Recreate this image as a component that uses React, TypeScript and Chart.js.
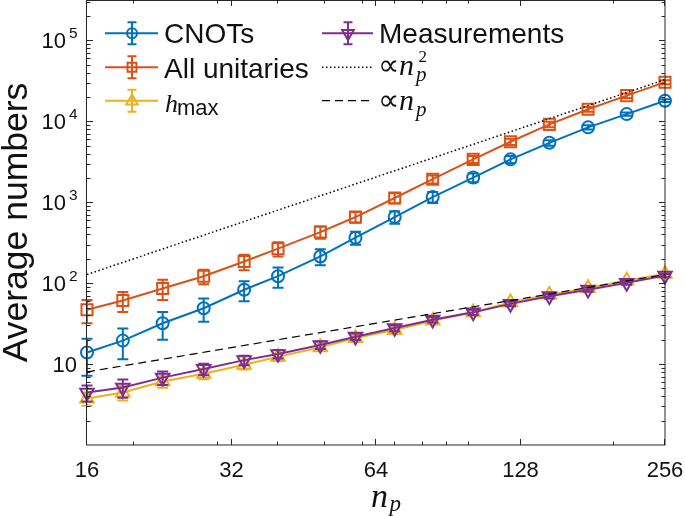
import React, { useEffect, useRef } from 'react';
import { Chart, registerables } from 'chart.js';

Chart.register(...registerables);

// ---------- data ----------
const npValues = [16, 19, 23, 28, 34, 40, 49, 58, 70, 84, 102, 122, 147, 177, 213, 256];

const cnotMeans = [13.9, 19.5, 32, 49, 83, 122, 214, 365, 657, 1160, 2020, 3390, 5430, 8430, 12300, 18000];
const cnotErrors = [6.7, 8, 12, 15.7, 23, 34, 48, 67, 115, 180, 250, 330, 420, 500, 600, 700];

const unitaryMeans = [47, 61, 86, 122, 185, 267, 428, 657, 1130, 1930, 3390, 5600, 9180, 14100, 20800, 30500];
const unitaryErrors = [15, 17, 24, 25, 40, 54, 75, 100, 160, 220, 330, 480, 700, 950, 1300, 1800];

const hmaxMeans = [3.75, 4.45, 6.1, 7.6, 9.8, 12.3, 16.1, 21, 26.4, 34.4, 43.6, 58, 72, 87, 108, 130];
const hmaxErrors = [0.7, 0.9, 1.0, 1.1, 1.2, 1.3, 1.5, 1.7, 2.0, 2.5, 3.0, 3.5, 4.0, 4.5, 5.0, 5.5];

const measurementMeans = [4.45, 5.13, 6.8, 8.7, 11.2, 13.3, 17.2, 21.8, 27.9, 35.4, 43.6, 55.5, 69, 83, 101, 124];
const measurementErrors = [1.0, 1.3, 1.3, 1.4, 1.5, 1.6, 1.8, 2.0, 2.4, 2.8, 3.2, 3.6, 4.2, 4.8, 5.4, 6.0];

const refX = [16, 256];
const quadraticRefY = [128, 32768];
const linearRefY = [8, 128];

const xTickValues = [16, 32, 64, 128, 256];
const xMinorTickValues = [20, 30, 40, 50, 60, 70, 80, 90, 100, 200];
const yTickExponents = [1, 2, 3, 4, 5];

const X_MIN = 16;
const X_MAX = 256;
const Y_MIN = 1;
const Y_MAX = 316228;

const BLUE = '#0072BD';
const ORANGE = '#D95319';
const YELLOW = '#EDB120';
const PURPLE = '#7E2F8E';
const AXIS = '#262626';
const TEXT = '#111111';

const SANS = '"Liberation Sans", Arial, Helvetica, sans-serif';
const SERIF = '"Liberation Serif", "Times New Roman", serif';

// ---------- helpers ----------
function markerPath(ctx: CanvasRenderingContext2D, style: string, x: number, y: number, r: number) {
  ctx.beginPath();
  if (style === 'circle') {
    ctx.arc(x, y, r, 0, Math.PI * 2);
  } else if (style === 'rect') {
    const s = r * Math.SQRT1_2;
    ctx.rect(x - s, y - s, 2 * s, 2 * s);
  } else {
    const down = style === 'triDown';
    let rad = down ? Math.PI : 0;
    for (let k = 0; k < 3; k++) {
      const px = x + Math.sin(rad) * r;
      const py = y - Math.cos(rad) * r;
      if (k === 0) ctx.moveTo(px, py);
      else ctx.lineTo(px, py);
      rad += (2 * Math.PI) / 3;
    }
    ctx.closePath();
  }
  ctx.stroke();
}

function seriesPoints(values: number[]) {
  return npValues.map((x, i) => ({ x, y: values[i] }));
}

const errorBarPlugin = {
  id: 'errorBars',
  afterDatasetDraw(chart: any, args: any) {
    const ds = chart.data.datasets[args.index];
    const errs: number[] | undefined = ds.errorValues;
    if (!errs) return;
    const xs = chart.scales.x;
    const ys = chart.scales.y;
    const ctx: CanvasRenderingContext2D = chart.ctx;
    ctx.save();
    ctx.strokeStyle = ds.borderColor;
    ctx.lineWidth = 2;
    ctx.lineCap = 'butt';
    const cap = 5.5;
    ds.data.forEach((p: any, i: number) => {
      const e = errs[i];
      const px = xs.getPixelForValue(p.x);
      const yTop = ys.getPixelForValue(p.y + e);
      const yBot = ys.getPixelForValue(Math.max(p.y - e, Y_MIN * 0.5));
      ctx.beginPath();
      ctx.moveTo(px, yTop);
      ctx.lineTo(px, yBot);
      ctx.moveTo(px - cap, yTop);
      ctx.lineTo(px + cap, yTop);
      ctx.moveTo(px - cap, yBot);
      ctx.lineTo(px + cap, yBot);
      ctx.stroke();
    });
    ctx.restore();
  },
};

const decorPlugin = {
  id: 'decor',
  afterDraw(chart: any) {
    const ctx: CanvasRenderingContext2D = chart.ctx;
    const xs = chart.scales.x;
    const ys = chart.scales.y;
    const a = chart.chartArea;
    ctx.save();

    // axes box
    ctx.strokeStyle = AXIS;
    ctx.lineWidth = 1;
    ctx.strokeRect(a.left - 0.5, a.top + 0.5, a.right - a.left + 0.5, a.bottom - a.top - 0.5);

    // ticks (inward, all four sides)
    const majorLen = 6;
    const minorLen = 3.5;
    ctx.beginPath();
    xTickValues.forEach((v) => {
      const px = Math.round(xs.getPixelForValue(v)) - 0.5;
      ctx.moveTo(px, a.bottom);
      ctx.lineTo(px, a.bottom - majorLen);
      ctx.moveTo(px, a.top);
      ctx.lineTo(px, a.top + majorLen);
    });
    xMinorTickValues.forEach((v) => {
      const px = Math.round(xs.getPixelForValue(v)) - 0.5;
      ctx.moveTo(px, a.bottom);
      ctx.lineTo(px, a.bottom - minorLen);
      ctx.moveTo(px, a.top);
      ctx.lineTo(px, a.top + minorLen);
    });
    yTickExponents.forEach((k) => {
      const py = Math.round(ys.getPixelForValue(Math.pow(10, k))) + 0.5;
      ctx.moveTo(a.left, py);
      ctx.lineTo(a.left + majorLen, py);
      ctx.moveTo(a.right, py);
      ctx.lineTo(a.right - majorLen, py);
    });
    for (let k = 0; k <= 5; k++) {
      for (let m = 2; m <= 9; m++) {
        const v = m * Math.pow(10, k);
        if (v >= Y_MAX) continue;
        const py = Math.round(ys.getPixelForValue(v)) + 0.5;
        ctx.moveTo(a.left, py);
        ctx.lineTo(a.left + minorLen, py);
        ctx.moveTo(a.right, py);
        ctx.lineTo(a.right - minorLen, py);
      }
    }
    ctx.stroke();

    // x tick labels
    ctx.fillStyle = TEXT;
    ctx.font = `22px ${SANS}`;
    ctx.textAlign = 'center';
    ctx.textBaseline = 'alphabetic';
    xTickValues.forEach((v) => {
      ctx.fillText(String(v), xs.getPixelForValue(v), 476.5);
    });

    // y tick labels (10, 10^2 ...)
    yTickExponents.forEach((k) => {
      const py = ys.getPixelForValue(Math.pow(10, k));
      ctx.textAlign = 'right';
      if (k === 1) {
        ctx.font = `22px ${SANS}`;
        ctx.fillText('10', 77, py + 8);
      } else {
        ctx.font = `15.5px ${SANS}`;
        ctx.fillText(String(k), 77.5, py - 2.5);
        ctx.font = `22px ${SANS}`;
        ctx.fillText('10', 66, py + 7.5);
      }
    });

    // y title
    ctx.save();
    ctx.translate(26.5, (a.top + a.bottom) / 2);
    ctx.rotate(-Math.PI / 2);
    ctx.textAlign = 'center';
    ctx.font = `35.5px ${SANS}`;
    ctx.fillText('Average numbers', 0, 0);
    ctx.restore();

    // x title n_p
    ctx.textAlign = 'left';
    ctx.font = `italic 34px ${SERIF}`;
    ctx.fillText('n', 371, 506.5);
    ctx.font = `italic 23px ${SERIF}`;
    ctx.fillText('p', 389.5, 510.5);

    // legend
    const rows = [33.3, 67.3, 100.7];
    const col1 = { x1: 105, x2: 158, xm: 132, xt: 164 };
    const col2 = { x1: 322, x2: 373, xm: 348, xt: 379 };
    const entries = [
      { col: col1, row: 0, color: BLUE, style: 'circle', r: 5, ds: 0 },
      { col: col1, row: 1, color: ORANGE, style: 'rect', r: 6.3, ds: 1 },
      { col: col1, row: 2, color: YELLOW, style: 'triUp', r: 6.8, ds: 2 },
      { col: col2, row: 0, color: PURPLE, style: 'triDown', r: 6.8, ds: 3 },
    ];
    entries.forEach((e) => {
      const y = rows[e.row];
      ctx.strokeStyle = e.color;
      ctx.lineWidth = 2;
      ctx.beginPath();
      ctx.moveTo(e.col.x1, y);
      ctx.lineTo(e.col.x2, y);
      ctx.moveTo(e.col.xm, y - 11);
      ctx.lineTo(e.col.xm, y + 11);
      ctx.moveTo(e.col.xm - 4.5, y - 11);
      ctx.lineTo(e.col.xm + 4.5, y - 11);
      ctx.moveTo(e.col.xm - 4.5, y + 11);
      ctx.lineTo(e.col.xm + 4.5, y + 11);
      ctx.stroke();
      markerPath(ctx, e.style, e.col.xm, e.row === 2 ? y + 0.5 : y, e.r);
    });
    // reference line legend samples
    ctx.strokeStyle = '#000';
    ctx.lineWidth = 1.5;
    ctx.setLineDash([1.5, 2.5]);
    ctx.beginPath();
    ctx.moveTo(col2.x1, rows[1]);
    ctx.lineTo(col2.x2, rows[1]);
    ctx.stroke();
    ctx.lineWidth = 1.2;
    ctx.setLineDash([8, 5]);
    ctx.beginPath();
    ctx.moveTo(col2.x1, rows[2]);
    ctx.lineTo(col2.x2, rows[2]);
    ctx.stroke();
    ctx.setLineDash([]);

    ctx.fillStyle = TEXT;
    ctx.textAlign = 'left';
    const labels: string[] = chart.data.datasets.map((d: any) => d.label);
    ctx.font = `28px ${SANS}`;
    ctx.fillText(labels[0], col1.xt, rows[0] + 10);
    ctx.fillText(labels[1], col1.xt, rows[1] + 10.3);
    ctx.fillText(labels[3], col2.xt, rows[0] + 10);
    // h_max
    ctx.font = `italic 26px ${SERIF}`;
    ctx.fillText('h', 165, 111.5);
    ctx.font = `22px ${SANS}`;
    ctx.fillText('max', 177, 115);
    // ∝ n_p^2
    const drawProp = (y: number, sup: string | null) => {
      ctx.font = `30px ${SERIF}`;
      ctx.fillText('\u221D', 378, y);
      ctx.font = `italic 30px ${SERIF}`;
      ctx.fillText('n', 399, y);
      ctx.font = `italic 21px ${SERIF}`;
      ctx.fillText('p', 416, y + 5.5);
      if (sup) {
        ctx.font = `17px ${SERIF}`;
        ctx.fillText(sup, 418.5, y - 13);
      }
    };
    drawProp(75, '2');
    drawProp(110, null);

    ctx.restore();
  },
};

export default function App() {
  const canvasRef = useRef<HTMLCanvasElement | null>(null);

  useEffect(() => {
    if (!canvasRef.current) return;
    const lineCommon = {
      borderWidth: 2,
      backgroundColor: 'rgba(0,0,0,0)',
      pointBackgroundColor: 'rgba(0,0,0,0)',
      pointBorderWidth: 2,
      pointHoverRadius: 0,
      tension: 0,
      clip: false as any,
      fill: false,
    };
    const chart = new Chart(canvasRef.current, {
      type: 'line',
      data: {
        datasets: [
          {
            ...lineCommon,
            label: 'CNOTs',
            data: seriesPoints(cnotMeans),
            borderColor: BLUE,
            pointBorderColor: BLUE,
            pointStyle: 'circle',
            pointRadius: 6,
            order: 4,
            errorValues: cnotErrors,
          } as any,
          {
            ...lineCommon,
            label: 'All unitaries',
            data: seriesPoints(unitaryMeans),
            borderColor: ORANGE,
            pointBorderColor: ORANGE,
            pointStyle: 'rect',
            pointRadius: 7.8,
            order: 3,
            errorValues: unitaryErrors,
          } as any,
          {
            ...lineCommon,
            label: 'h_max',
            data: seriesPoints(hmaxMeans),
            borderColor: YELLOW,
            pointBorderColor: YELLOW,
            pointStyle: 'triangle',
            pointRadius: 7.8,
            order: 2,
            errorValues: hmaxErrors,
          } as any,
          {
            ...lineCommon,
            label: 'Measurements',
            data: seriesPoints(measurementMeans),
            borderColor: PURPLE,
            pointBorderColor: PURPLE,
            pointStyle: 'triangle',
            pointRotation: 180,
            pointRadius: 7.8,
            order: 1,
            errorValues: measurementErrors,
          } as any,
          {
            label: '∝ n_p^2',
            data: refX.map((x, i) => ({ x, y: quadraticRefY[i] })),
            borderColor: '#000',
            borderWidth: 1.5,
            borderDash: [1.5, 2.5],
            pointRadius: 0,
            fill: false,
            order: 0,
          } as any,
          {
            label: '∝ n_p',
            data: refX.map((x, i) => ({ x, y: linearRefY[i] })),
            borderColor: '#000',
            borderWidth: 1.2,
            borderDash: [8, 5],
            pointRadius: 0,
            fill: false,
            order: 0,
          } as any,
        ],
      },
      options: {
        responsive: false,
        animation: false,
        devicePixelRatio: 1,
        layout: { padding: { top: 0, right: 20, bottom: 0, left: 0 }, autoPadding: false } as any,
        plugins: {
          legend: { display: false },
          tooltip: { enabled: false },
          title: { display: false },
        },
        events: [],
        scales: {
          x: {
            type: 'logarithmic',
            min: X_MIN,
            max: X_MAX,
            grid: { display: false },
            border: { display: false },
            ticks: { display: false },
            afterFit: (s: any) => {
              s.height = 71;
            },
          },
          y: {
            type: 'logarithmic',
            min: Y_MIN,
            max: Y_MAX,
            grid: { display: false },
            border: { display: false },
            ticks: { display: false },
            afterFit: (s: any) => {
              s.width = 87;
            },
          },
        },
      },
      plugins: [errorBarPlugin, decorPlugin],
    } as any);
    return () => chart.destroy();
  }, []);

  return (
    <div style={{ position: 'fixed', left: 0, top: 0, width: 685, height: 516, background: '#fff' }}>
      <canvas ref={canvasRef} width={685} height={516} style={{ display: 'block' }} />
    </div>
  );
}
